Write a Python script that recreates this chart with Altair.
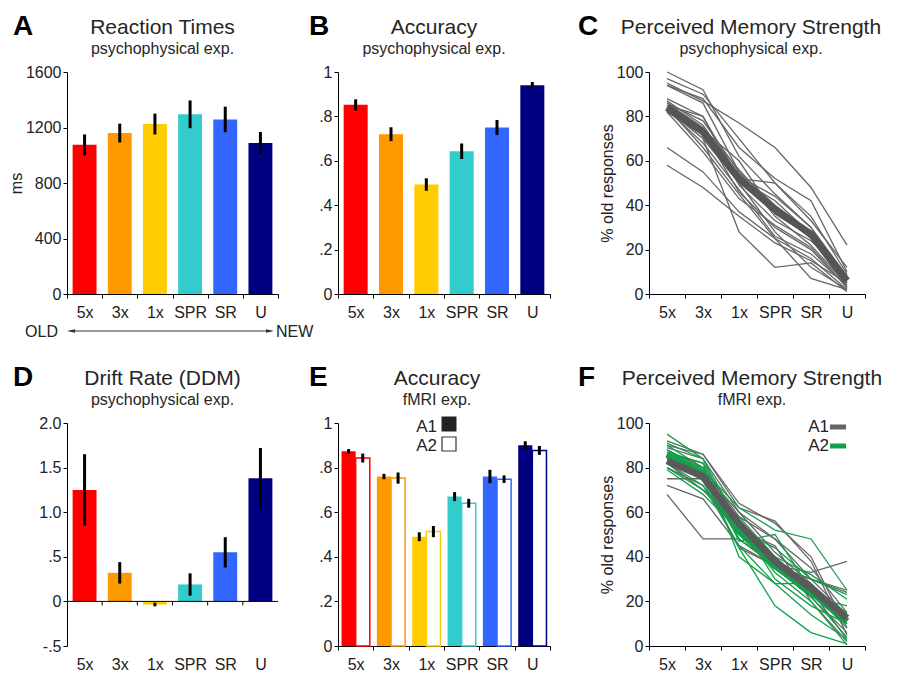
import altair as alt
import pandas as pd

FONT = "Liberation Sans"

categories = ["5x", "3x", "1x", "SPR", "SR", "U"]
bar_colors = ["#FF0000", "#FF9900", "#FFCC00", "#33CCCC", "#3366FF", "#000080"]

# Panel A: reaction times (ms)
rt_mean = [1075, 1160, 1225, 1295, 1258, 1088]
rt_err = [75, 68, 75, 100, 92, 80]

# Panel B: accuracy, psychophysical
acc_psych_mean = [0.852, 0.720, 0.493, 0.643, 0.750, 0.940]
acc_psych_err = [0.025, 0.031, 0.028, 0.035, 0.034, 0.015]

# Panel D: drift rate
drift_mean = [1.25, 0.32, -0.035, 0.19, 0.55, 1.38]
drift_err = [0.40, 0.12, 0.02, 0.125, 0.17, 0.34]

# Panel E: accuracy, fMRI (A1 filled, A2 open)
acc_fmri_a1 = [0.873, 0.760, 0.490, 0.670, 0.760, 0.900]
acc_fmri_a1_err = [0.010, 0.012, 0.020, 0.020, 0.030, 0.018]
acc_fmri_a2 = [0.843, 0.753, 0.513, 0.640, 0.748, 0.877]
acc_fmri_a2_err = [0.020, 0.025, 0.025, 0.020, 0.017, 0.020]

# Panel C: perceived memory strength (% old), psychophysical, per subject
pms_psych_subjects = [
    [100, 92, 62, 45, 30, 8],
    [97, 90, 70, 50, 33, 12],
    [95, 87, 77, 66, 48, 22],
    [94, 86, 55, 40, 28, 5],
    [94, 88, 66, 52, 42, 10],
    [88, 80, 52, 50, 35, 9],
    [86, 78, 55, 35, 22, 4],
    [85, 73, 46, 30, 20, 3],
    [84, 70, 50, 28, 12, 2],
    [83, 68, 47, 26, 18, 4],
    [82, 72, 52, 42, 27, 6],
    [86, 75, 56, 38, 25, 3],
    [84, 66, 45, 25, 16, 2],
    [83, 70, 28, 12, 14, 1],
    [66, 55, 37, 25, 7, 2],
    [58, 48, 35, 23, 15, 5],
    [85, 80, 49, 33, 24, 8],
    [87, 76, 53, 44, 30, 7],
    [82, 64, 43, 31, 21, 3],
    [84, 74, 60, 36, 26, 5],
]
pms_psych_mean = [84, 73, 52, 38, 27, 6]

# Panel F: perceived memory strength, fMRI, per subject
pms_fmri_a1_subjects = [
    [92, 86, 62, 56, 38, 5],
    [90, 86, 64, 55, 40, 8],
    [88, 80, 58, 48, 30, 24],
    [75, 75, 48, 36, 33, 38],
    [68, 48, 48, 36, 28, 12],
    [72, 66, 45, 36, 30, 14],
    [84, 78, 60, 42, 28, 10],
    [86, 82, 55, 40, 25, 3],
    [80, 72, 50, 35, 22, 6],
    [85, 76, 44, 36, 30, 25],
    [82, 70, 52, 45, 20, 2],
    [89, 84, 60, 48, 35, 15],
]
pms_fmri_a1_mean = [83, 76, 55, 38, 26, 12.5]
pms_fmri_a2_subjects = [
    [95, 84, 55, 38, 22, 4],
    [90, 80, 47, 50, 25, 8],
    [88, 79, 62, 52, 48, 25],
    [86, 74, 44, 18, 6, 1],
    [84, 78, 50, 35, 22, 18],
    [82, 72, 45, 28, 14, 3],
    [80, 70, 58, 40, 32, 21],
    [79, 68, 52, 33, 20, 0.5],
    [87, 82, 40, 28, 28, 13],
    [83, 76, 56, 30, 18, 10],
    [85, 80, 52, 44, 30, 23],
    [91, 84, 48, 36, 25, 15],
]
pms_fmri_a2_mean = [86, 77, 52, 36, 24.5, 11]

GRAY = "#666666"
GREEN = "#13A04A"
TXT = "#222222"

W1, W2, W3 = 211, 212, 216
GAP12, GAP23 = 60, 99
H_1, H_2 = 222, 223
ROW_GAP = 129


def bar_frame(mean, err):
    return pd.DataFrame({
        "cat": categories,
        "mean": mean,
        "lo": [m - e for m, e in zip(mean, err)],
        "hi": [m + e for m, e in zip(mean, err)],
    })


def lines_frame(subjects):
    rows = []
    for s, vals in enumerate(subjects):
        for c, v in zip(categories, vals):
            rows.append({"subject": s, "cat": c, "val": v})
    return pd.DataFrame(rows)


def xaxis(**kw):
    base = dict(title=None, labelAngle=0, tickBand="extent", tickSize=4,
                tickColor="black", domainColor="black", labelFontSize=16,
                labelColor=TXT, labelPadding=6, labelFont=FONT)
    base.update(kw)
    return alt.Axis(**base)


def yaxis(values, expr, title=None, fmt=None):
    kw = dict(values=values, labelExpr=expr, grid=False, tickSize=4,
              tickColor="black", domainColor="black", labelFontSize=16,
              labelColor=TXT, labelPadding=2, labelFont=FONT)
    if fmt:
        kw.update(format=fmt)
    if title:
        kw.update(title=title, titleFontSize=16, titleFontWeight="normal",
                  titleColor=TXT, titlePadding=1, titleFont=FONT)
    else:
        kw.update(title=None)
    return alt.Axis(**kw)


band = alt.Scale(type="band", paddingInner=0, paddingOuter=0)
color = alt.Color("cat:N", scale=alt.Scale(domain=categories, range=bar_colors), legend=None)


def text_mark(txt, x, y, size, align="left", weight="normal", col=TXT):
    return alt.Chart(pd.DataFrame({"t": [txt]})).mark_text(
        fontSize=size, fontWeight=weight, font=FONT, align=align,
        baseline="alphabetic", color=col
    ).encode(text="t:N", x=alt.value(x), y=alt.value(y))


def heading(ch, lx, main, sub, cx):
    return [
        text_mark(ch, lx, -37, 28, "left", "bold", "black"),
        text_mark(main, cx, -38, 21, "center", "normal", "#262626"),
        text_mark(sub, cx, -18, 16, "center", "normal", "#262626"),
    ]


def bar_layers(mean, err, ydomain, yvals, yexpr, ytitle, fmt=None):
    df = bar_frame(mean, err)
    base = alt.Chart(df)
    bars = base.mark_bar(width={"band": 0.68}).encode(
        x=alt.X("cat:N", sort=categories, scale=band, axis=xaxis()),
        y=alt.Y("mean:Q", scale=alt.Scale(domain=ydomain, nice=False, zero=False),
                axis=yaxis(yvals, yexpr, ytitle, fmt)),
        color=color,
    )
    errs = base.mark_rule(color="black", strokeWidth=3).encode(
        x=alt.X("cat:N", sort=categories), y="lo:Q", y2="hi:Q")
    return [bars, errs]


def spacer(w):
    return alt.Chart(pd.DataFrame({"t": [0]})).mark_point(opacity=0).encode(
        x=alt.value(0), y=alt.value(0)).properties(width=w, height=1)


# ---------------- Panel A ----------------
la = bar_layers(rt_mean, rt_err, [0, 1600], list(range(0, 1601, 200)),
                "datum.value % 400 == 0 ? datum.label : ''", "ms", "d")
arrow = alt.Chart(pd.DataFrame({"t": [0]})).mark_rule(color="#333333", strokeWidth=1).encode(
    x=alt.value(3), x2=alt.value(204), y=alt.value(259))
head_l = alt.Chart(pd.DataFrame({"t": [0]})).mark_point(
    shape="M-1,0L1,-0.45L1,0.45Z", filled=True, size=64, color="#333333", opacity=1
).encode(x=alt.value(4), y=alt.value(259))
head_r = alt.Chart(pd.DataFrame({"t": [0]})).mark_point(
    shape="M1,0L-1,-0.45L-1,0.45Z", filled=True, size=64, color="#333333", opacity=1
).encode(x=alt.value(203), y=alt.value(259))
panel_a = alt.layer(
    *la,
    *heading("A", -54, "Reaction Times", "psychophysical exp.", W1 / 2 - 10),
    text_mark("OLD", -9, 265, 16, "right"),
    text_mark("NEW", 209, 265, 16, "left"),
    arrow, head_l, head_r,
).properties(width=W1, height=H_1)

# ---------------- Panel B ----------------
acc_expr = ("datum.value == 0 ? '0' : datum.value == 1 ? '1' : "
            "(round(datum.value * 10) % 2 == 0 ? '.' + round(datum.value * 10) : '')")
acc_vals = [0, 0.1, 0.2, 0.3, 0.4, 0.5, 0.6, 0.7, 0.8, 0.9, 1.0]
lb = bar_layers(acc_psych_mean, acc_psych_err, [0, 1], acc_vals, acc_expr, None)
panel_b = alt.layer(
    *lb, *heading("B", -29, "Accuracy", "psychophysical exp.", W2 / 2 - 10)
).properties(width=W2, height=H_1)


# ---------------- line panels ----------------
def xline():
    return alt.X("cat:N", sort=categories, scale=band, bandPosition=0.5, axis=xaxis())


pct_vals = list(range(0, 101, 10))
pct_expr = "datum.value % 20 == 0 ? datum.label : ''"


def yline(with_axis=True):
    if with_axis:
        return alt.Y("val:Q", scale=alt.Scale(domain=[0, 100], nice=False),
                     axis=yaxis(pct_vals, pct_expr, "% old responses"))
    return alt.Y("val:Q")


c_subj = alt.Chart(lines_frame(pms_psych_subjects)).mark_line(
    color=GRAY, strokeWidth=1.3).encode(x=xline(), y=yline(), detail="subject:N")
c_mean = alt.Chart(lines_frame([pms_psych_mean])).mark_line(
    color="#555555", strokeWidth=7, strokeJoin="round").encode(x=xline(), y=yline(False))
panel_c = alt.layer(
    c_subj, c_mean,
    *heading("C", -71, "Perceived Memory Strength", "psychophysical exp.", W3 / 2 - 6)
).properties(width=W3, height=H_1)

# ---------------- Panel D ----------------
drift_vals = [-0.5, -0.25, 0, 0.25, 0.5, 0.75, 1, 1.25, 1.5, 1.75, 2]
drift_expr = ("datum.value == 2 ? '2.0' : datum.value == 1.5 ? '1.5' : datum.value == 1 ? '1.0' : "
              "datum.value == 0.5 ? '.5' : datum.value == 0 ? '0' : datum.value == -0.5 ? '-.5' : ''")
ddf = bar_frame(drift_mean, drift_err)
dbase = alt.Chart(ddf)
d_bars = dbase.mark_bar(width={"band": 0.68}).encode(
    x=alt.X("cat:N", sort=categories, scale=band,
            axis=xaxis(domain=False, ticks=False, labelPadding=10)),
    y=alt.Y("mean:Q", scale=alt.Scale(domain=[-0.5, 2], nice=False),
            axis=yaxis(drift_vals, drift_expr)),
    color=color,
)
d_err = dbase.mark_rule(color="black", strokeWidth=3).encode(
    x=alt.X("cat:N", sort=categories), y="lo:Q", y2="hi:Q")
d_zero = alt.Chart(pd.DataFrame({"t": [0]})).mark_rule(color="black", strokeWidth=1).encode(
    x=alt.value(0), x2=alt.value(W1), y=alt.datum(0))
d_ticks = alt.Chart(pd.DataFrame({"cat": categories[1:]})).mark_rule(
    color="black", strokeWidth=1).encode(
    x=alt.X("cat:N", sort=categories, bandPosition=0), y=alt.datum(0), y2=alt.datum(-0.045))
panel_d = alt.layer(
    d_bars, d_err, d_zero, d_ticks,
    *heading("D", -54, "Drift Rate (DDM)", "psychophysical exp.", W1 / 2 - 10)
).properties(width=W1, height=H_2)

# ---------------- Panel E ----------------
edf = pd.DataFrame({
    "cat": categories * 2,
    "attempt": ["A1"] * 6 + ["A2"] * 6,
    "mean": acc_fmri_a1 + acc_fmri_a2,
    "lo": [m - e for m, e in zip(acc_fmri_a1 + acc_fmri_a2, acc_fmri_a1_err + acc_fmri_a2_err)],
    "hi": [m + e for m, e in zip(acc_fmri_a1 + acc_fmri_a2, acc_fmri_a1_err + acc_fmri_a2_err)],
})
xoff = alt.XOffset("attempt:N", scale=alt.Scale(domain=["A1", "A2"], paddingInner=0, paddingOuter=0.25))
ex = alt.X("cat:N", sort=categories, scale=band, axis=xaxis())
ey = alt.Y("mean:Q", scale=alt.Scale(domain=[0, 1], nice=False), axis=yaxis(acc_vals, acc_expr))
e_a1 = alt.Chart(edf).transform_filter("datum.attempt == 'A1'").mark_bar().encode(
    x=ex, xOffset=xoff, y=ey, color=color)
e_a2 = alt.Chart(edf).transform_filter("datum.attempt == 'A2'").mark_bar(
    fill="white", strokeWidth=1.5).encode(
    x=ex, xOffset=xoff, y=ey,
    stroke=alt.Stroke("cat:N", scale=alt.Scale(domain=categories, range=bar_colors), legend=None))
e_err = alt.Chart(edf).mark_rule(color="black", strokeWidth=3).encode(
    x=ex, xOffset=xoff, y="lo:Q", y2="hi:Q")
e_leg_1 = alt.Chart(pd.DataFrame({"t": [0]})).mark_point(
    shape="square", filled=True, size=225, color="#222222", opacity=1
).encode(x=alt.value(111), y=alt.value(1))
e_leg_2 = alt.Chart(pd.DataFrame({"t": [0]})).mark_point(
    shape="square", filled=True, size=196, fill="white", stroke="#333333", strokeWidth=1.2, opacity=1
).encode(x=alt.value(111), y=alt.value(21))
panel_e = alt.layer(
    e_a1, e_a2, e_err,
    text_mark("A1", 99, 9, 17, "right"), text_mark("A2", 99, 28, 17, "right"),
    e_leg_1, e_leg_2,
    *heading("E", -29, "Accuracy", "fMRI exp.", W2 / 2 - 7)
).properties(width=W2, height=H_2)

# ---------------- Panel F ----------------
f_a1 = alt.Chart(lines_frame(pms_fmri_a1_subjects)).mark_line(
    color=GRAY, strokeWidth=1.3).encode(x=xline(), y=yline(), detail="subject:N")
f_a2 = alt.Chart(lines_frame(pms_fmri_a2_subjects)).mark_line(
    color=GREEN, strokeWidth=1.3).encode(x=xline(), y=yline(False), detail="subject:N")
f_m2 = alt.Chart(lines_frame([pms_fmri_a2_mean])).mark_line(
    color=GREEN, strokeWidth=7, strokeJoin="round").encode(x=xline(), y=yline(False))
f_m1 = alt.Chart(lines_frame([pms_fmri_a1_mean])).mark_line(
    color="#5a5a5a", strokeWidth=7, strokeJoin="round").encode(x=xline(), y=yline(False))
f_leg_1 = alt.Chart(pd.DataFrame({"t": [0]})).mark_rule(color=GRAY, strokeWidth=5).encode(
    x=alt.value(181), x2=alt.value(197), y=alt.value(4))
f_leg_2 = alt.Chart(pd.DataFrame({"t": [0]})).mark_rule(color=GREEN, strokeWidth=5).encode(
    x=alt.value(181), x2=alt.value(197), y=alt.value(23))
panel_f = alt.layer(
    f_a1, f_a2, f_m2, f_m1,
    text_mark("A1", 180, 9, 17, "right"), text_mark("A2", 180, 28, 17, "right"),
    f_leg_1, f_leg_2,
    *heading("F", -71, "Perceived Memory Strength", "fMRI exp.", W3 / 2 - 5)
).properties(width=W3, height=H_2)

chart = alt.concat(
    panel_a, spacer(GAP12), panel_b, spacer(GAP23), panel_c,
    panel_d, spacer(GAP12), panel_e, spacer(GAP23), panel_f,
    columns=5, spacing={"row": ROW_GAP, "column": 0}, bounds="flush",
).properties(
    padding={"left": 0, "top": 5, "right": 0, "bottom": 0}, background="white"
).configure(font=FONT).configure_view(stroke=None)

chart.save("out.html", embed_options={"renderer": "svg", "actions": False})
